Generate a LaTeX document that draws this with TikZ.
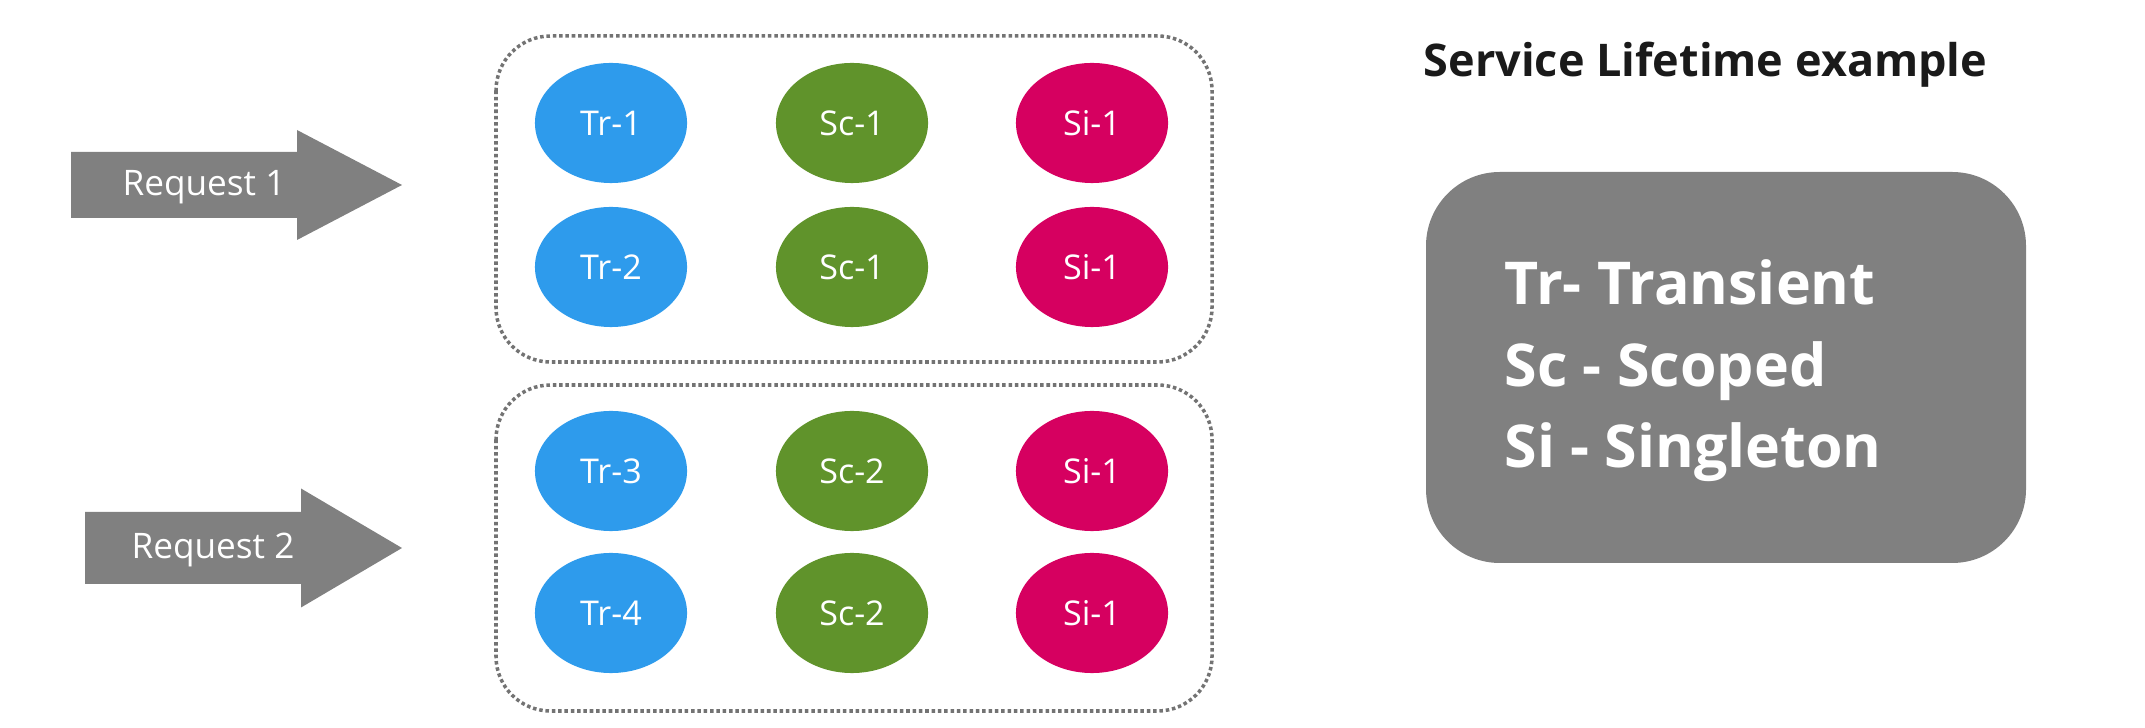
\documentclass[tikz,border=0pt]{standalone}
\usepackage{fontspec}
\setmainfont{Open Sans}
\usetikzlibrary{shapes.geometric}
\definecolor{trblue}{HTML}{2E9BEC}
\definecolor{scgreen}{HTML}{60932B}
\definecolor{simag}{HTML}{D60060}
\definecolor{boxgray}{HTML}{808080}
\definecolor{titleblack}{HTML}{1A1A1A}
\tikzset{
  life/.style={ellipse,minimum width=1.52cm,minimum height=1.2cm,inner sep=0pt,text=white,font=\fontsize{9.7}{11}\selectfont},
  grp/.style={draw=boxgray!90!black,line width=1pt,dash pattern=on 1pt off 0.8pt,rounded corners=15.5pt},
  reqtxt/.style={text=white,font=\fontsize{10}{12}\selectfont},
  legtxt/.style={anchor=base west,text=white,inner sep=0pt,font=\bfseries\fontsize{16.8}{20}\selectfont}
}
\begin{document}
\begin{tikzpicture}[x=0.01cm,y=-0.01cm]
\useasboundingbox (0,0) rectangle (2145,728);
% request arrows
\foreach \xa/\xb/\yc/\hb/\hh/\tx [count=\i] in {71/297/185/33/55/204,85/301/548/36/59.5/213}{
  \fill[boxgray] (\xa,\yc-\hb)--(\xb,\yc-\hb)--(\xb,\yc-\hh)--(402,\yc)--(\xb,\yc+\hh)--(\xb,\yc+\hb)--(\xa,\yc+\hb)--cycle;
  \node[reqtxt] (req\i) at (\tx,\yc+2) {Request \i};
}
% the two scopes
\draw[grp] (496,36) rectangle (1212,362);
\draw[grp] (496,385) rectangle (1212,711);
\foreach \y/\r/\s [count=\i] in {123/1/1,267/2/1,471/3/2,613/4/2}{
  \node[life,fill=trblue] (tr\i) at (611,\y) {Tr-\r};
  \node[life,fill=scgreen] (sc\i) at (852,\y) {Sc-\s};
  \node[life,fill=simag] (si\i) at (1092,\y) {Si-1};
}
% legend
\node[anchor=base west,inner sep=0pt,text=titleblack,font=\bfseries\fontsize{12.8}{15}\selectfont] (title) at (1423,77) {Service Lifetime example};
\fill[boxgray,rounded corners=21pt] (1426,172) rectangle (2026,563);
\foreach \y/\gt [count=\i] in {305/Tr- Transient,387/Sc - Scoped,468/Si - Singleton}
  \node[legtxt] (leg\i) at (1504,\y) {\gt};
\end{tikzpicture}
\end{document}
